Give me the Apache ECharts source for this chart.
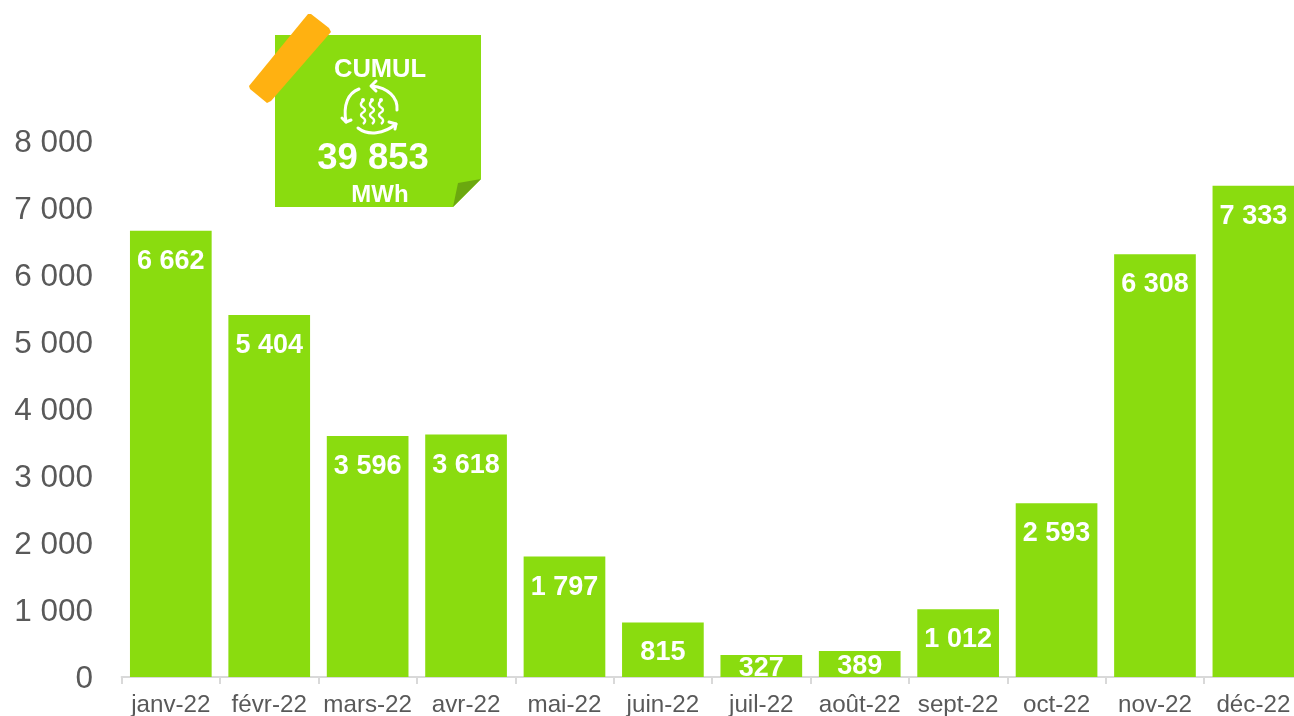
<!DOCTYPE html>
<html><head><meta charset="utf-8">
<style>html,body{margin:0;padding:0;background:#fff;overflow:hidden}#c{width:1294px;height:716px}</style>
<script src="https://cdn.jsdelivr.net/npm/echarts@6/dist/echarts.min.js"></script>
</head><body><div id="c"></div>
<script>
const categories=['janv-22','févr-22','mars-22','avr-22','mai-22','juin-22','juil-22','août-22','sept-22','oct-22','nov-22','déc-22'];
const values=[6662,5404,3596,3618,1797,815,327,389,1012,2593,6308,7333];
const labelDistances=[17,17,17,17,17,17,0,2,17,17,17,17];
const fmt=v=>String(v).replace(/\B(?=(\d{3})+$)/g,' ');
const GREEN='#8ADC0F';
const font='"Liberation Sans", Arial, sans-serif';
const chart=echarts.init(document.getElementById('c'),null,{renderer:'canvas'});
const iconLine={fill:'none',stroke:'#fff',lineWidth:3,lineCap:'round',lineJoin:'round'};
const wave=x=>({type:'polyline',shape:{smooth:0.6,points:[[x,101],[x-2,105],[x+2,110],[x-2,115],[x+2,120],[x,124]]},style:{fill:'none',stroke:'#fff',lineWidth:2.4}});
const dot=x=>({type:'circle',shape:{cx:x,cy:100,r:2},style:{fill:'#fff'}});
const curve=(x1,y1,cpx1,cpy1,cpx2,cpy2,x2,y2)=>({type:'bezierCurve',shape:{x1,y1,cpx1,cpy1,cpx2,cpy2,x2,y2},style:iconLine});
const head=pts=>({type:'polyline',shape:{points:pts},style:iconLine});
chart.setOption({
 animation:false,
 grid:{left:121.6,top:141,width:1181,height:536,outerBoundsMode:'none',containLabel:false},
 xAxis:{type:'category',data:categories,
  axisLine:{lineStyle:{color:'#D9D9D9',width:2}},
  axisTick:{show:true,alignWithLabel:false,length:7,lineStyle:{color:'#D9D9D9',width:2}},
  axisLabel:{interval:0,color:'#595959',fontFamily:font,fontSize:24.2,margin:16,hideOverlap:false}},
 yAxis:{type:'value',min:0,max:8000,interval:1000,
  axisLine:{show:false},axisTick:{show:false},splitLine:{show:false},
  axisLabel:{color:'#595959',fontFamily:font,fontSize:31.5,margin:28.6,verticalAlign:'top',lineHeight:4,formatter:v=>fmt(v)}},
 series:[{type:'bar',data:values.map((v,i)=>({value:v,label:{distance:labelDistances[i]}})),
  barWidth:'83%',itemStyle:{color:GREEN},
  label:{show:true,position:'insideTop',color:'#fff',fontFamily:font,fontWeight:'bold',fontSize:27,formatter:p=>fmt(p.value)}}],
 graphic:[
  {type:'polygon',shape:{points:[[275,35],[481,35],[481,179],[453,207],[275,207]]},style:{fill:GREEN}},
  {type:'polygon',shape:{points:[[453,207],[481,179],[458,183]]},style:{fill:'#6BA80F'}},
  {type:'polygon',shape:{points:[[311,14],[329,28],[331,32],[271,101],[267,103],[250,89],[249,86],[308,14]]},style:{fill:'#FFB111'}},
  {type:'text',style:{x:380,y:70,text:'CUMUL',align:'center',verticalAlign:'middle',fill:'#fff',font:'bold 25.5px '+font}},
  {type:'text',style:{x:373,y:159,text:'39 853',align:'center',verticalAlign:'middle',fill:'#fff',font:'bold 36.5px '+font}},
  {type:'text',style:{x:380,y:195,text:'MWh',align:'center',verticalAlign:'middle',fill:'#fff',font:'bold 24px '+font}},
  curve(359,89,348,93,343,105,346,122),
  head([[342,118],[346,122],[351,120]]),
  curve(397,110,398,97,388,88,372,86),
  head([[376,81],[371,86],[376,91]]),
  curve(358,128,368,136,384,134,396,124),
  head([[389,122],[396,124],[395,129]]),
  dot(363),dot(372),dot(381),wave(363),wave(372),wave(381)
 ]
});
</script></body></html>
